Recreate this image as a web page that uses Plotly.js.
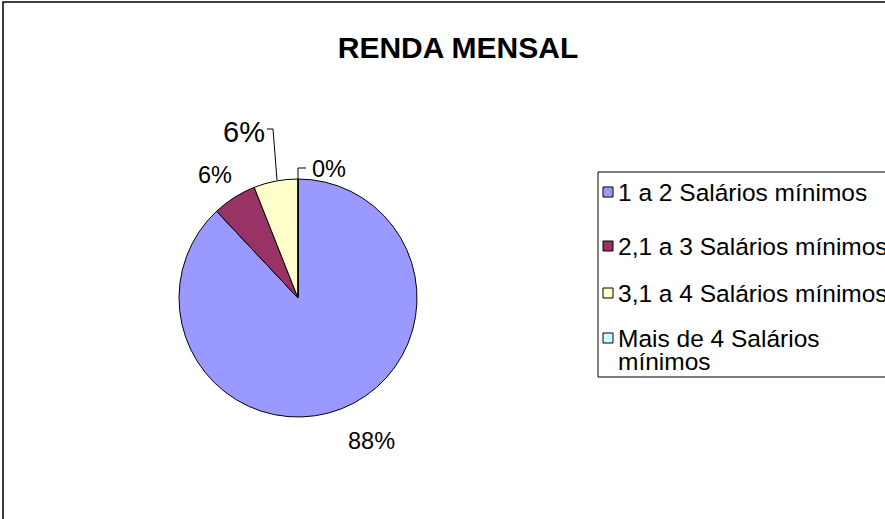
<!DOCTYPE html>
<html>
<head>
<meta charset="utf-8">
<script src="https://cdn.plot.ly/plotly-3.0.1.min.js"></script>
<style>
html,body{margin:0;padding:0;background:#fff;}
#chart{width:885px;height:519px;}
</style>
</head>
<body>
<div id="chart"></div>
<script>
// ---- data ----
var categories = ["1 a 2 Salários mínimos", "2,1 a 3 Salários mínimos", "3,1 a 4 Salários mínimos", "Mais de 4 Salários mínimos"];
var legendLines = [["1 a 2 Salários mínimos"], ["2,1 a 3 Salários mínimos"], ["3,1 a 4 Salários mínimos"], ["Mais de 4 Salários", "mínimos"]];
var values = [88, 6, 6, 0];
var colors = ["#9999FF", "#993366", "#FFFFCC", "#CCFFFF"];
var chartTitle = "RENDA MENSAL";

// ---- layout helpers (pixel -> paper) ----
var W = 885, H = 519;
function px(x){ return x / W; }
function py(y){ return 1 - y / H; }
var FONT = "Liberation Sans, Arial, sans-serif";

var total = values.reduce(function(a,b){return a+b;}, 0);
var pct = values.map(function(v){ return Math.round(v / total * 100) + "%"; });

// pie geometry
var cx = 298, cy = 298, r = 119;

var trace = {
  type: "pie",
  labels: categories,
  values: values,
  sort: false,
  direction: "clockwise",
  rotation: 0,
  marker: {colors: colors, line: {color: "#000000", width: 1}},
  textinfo: "none",
  showlegend: false,
  domain: {x: [px(cx - r), px(cx + r)], y: [py(cy + r), py(cy - r)]}
};

// label positions (pixel centers) and sizes
var labelPos = [[371, 441, 23.5], [215, 175, 23.5], [244, 132, 29], [329, 169, 23.5]];
var annotations = [];
for (var i = 0; i < values.length; i++) {
  annotations.push({
    xref: "paper", yref: "paper",
    x: px(labelPos[i][0]), y: py(labelPos[i][1]),
    xanchor: "center", yanchor: "middle",
    text: pct[i], showarrow: false,
    font: {family: FONT, size: labelPos[i][2], color: "#000"}
  });
}

var shapes = [];
// outer chart frame
shapes.push({type: "rect", xref: "paper", yref: "paper",
  x0: px(3), x1: 1.05, y0: -0.05, y1: py(2),
  line: {color: "#000", width: 1.5}, fillcolor: "rgba(0,0,0,0)"});
// leader lines
shapes.push({type: "path", xref: "paper", yref: "paper",
  path: "M" + px(267) + "," + py(129) + " L" + px(273) + "," + py(129) + " L" + px(277) + "," + py(180),
  line: {color: "#000", width: 1}});
shapes.push({type: "path", xref: "paper", yref: "paper",
  path: "M" + px(306) + "," + py(168) + " L" + px(298) + "," + py(168) + " L" + px(298) + "," + py(180),
  line: {color: "#000", width: 1}});

// manual legend
shapes.push({type: "rect", xref: "paper", yref: "paper",
  x0: px(598), x1: 1.05, y0: py(377), y1: py(172),
  line: {color: "#000", width: 1}, fillcolor: "rgba(0,0,0,0)"});
var rowY = [192, 246, 293, 338];
for (var j = 0; j < categories.length; j++) {
  shapes.push({type: "rect", xref: "paper", yref: "paper",
    x0: px(603), x1: px(613), y0: py(rowY[j] + 5), y1: py(rowY[j] - 5),
    line: {color: "#000", width: 1}, fillcolor: colors[j]});
  for (var k = 0; k < legendLines[j].length; k++) {
    annotations.push({
      xref: "paper", yref: "paper",
      x: px(616), y: py(rowY[j] + k * 23),
      xanchor: "left", yanchor: "middle", align: "left",
      text: legendLines[j][k], showarrow: false,
      font: {family: FONT, size: 24.5, color: "#000"}
    });
  }
}

var layout = {
  width: W, height: H,
  margin: {l: 0, r: 0, t: 0, b: 0},
  paper_bgcolor: "#ffffff",
  plot_bgcolor: "#ffffff",
  showlegend: false,
  title: {text: "<b>" + chartTitle + "</b>", font: {family: FONT, size: 30, color: "#000"},
    x: px(458), y: py(47), xanchor: "center", yanchor: "middle", xref: "paper", yref: "paper"},
  annotations: annotations,
  shapes: shapes
};

Plotly.newPlot("chart", [trace], layout, {displayModeBar: false, staticPlot: true});
</script>
</body>
</html>
